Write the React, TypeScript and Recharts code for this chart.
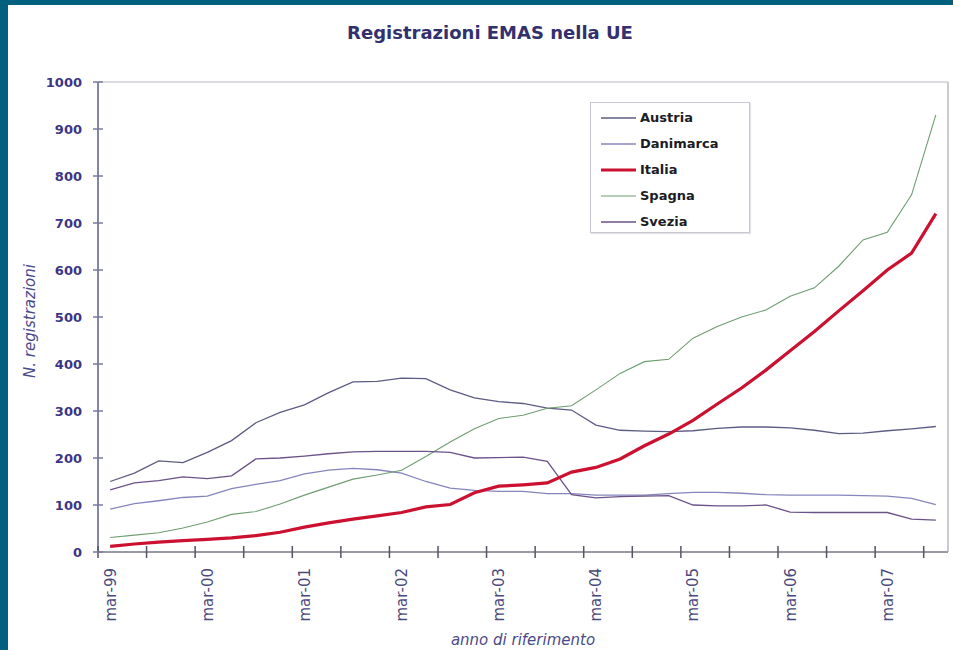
import React from 'react';
import { LineChart, Line, XAxis, YAxis, ReferenceLine, Legend, Label } from 'recharts';

const categories = [
  'mar-99', 'giu-99', 'set-99', 'dic-99',
  'mar-00', 'giu-00', 'set-00', 'dic-00',
  'mar-01', 'giu-01', 'set-01', 'dic-01',
  'mar-02', 'giu-02', 'set-02', 'dic-02',
  'mar-03', 'giu-03', 'set-03', 'dic-03',
  'mar-04', 'giu-04', 'set-04', 'dic-04',
  'mar-05', 'giu-05', 'set-05', 'dic-05',
  'mar-06', 'giu-06', 'set-06', 'dic-06',
  'mar-07', 'giu-07', 'set-07',
];

const austria = [150, 168, 194, 190, 212, 237, 275, 297, 313, 339, 362, 363, 370, 369, 345, 328, 320, 316, 306, 302, 270, 259, 257, 256, 258, 263, 266, 266, 264, 259, 252, 253, 258, 262, 267];
const danimarca = [91, 103, 109, 116, 119, 135, 144, 152, 166, 174, 178, 175, 168, 150, 136, 131, 129, 129, 124, 124, 121, 121, 121, 124, 127, 127, 125, 122, 121, 121, 121, 120, 119, 114, 101];
const italia = [12, 17, 21, 24, 27, 30, 35, 42, 53, 62, 70, 77, 84, 96, 101, 126, 140, 143, 147, 170, 180, 198, 226, 251, 280, 315, 349, 387, 428, 469, 513, 556, 600, 636, 720];
const spagna = [31, 36, 41, 51, 64, 80, 86, 102, 121, 138, 155, 164, 174, 203, 234, 262, 284, 291, 306, 311, 345, 380, 405, 410, 455, 480, 500, 515, 544, 562, 608, 664, 680, 760, 930];
const svezia = [132, 147, 152, 160, 156, 162, 198, 200, 204, 209, 213, 214, 214, 214, 212, 200, 201, 202, 193, 122, 115, 118, 119, 120, 100, 98, 98, 100, 85, 84, 84, 84, 84, 70, 68];

const yTicks = [0, 100, 200, 300, 400, 500, 600, 700, 800, 900, 1000];

const data = categories.map((c, i) => ({
  i,
  cat: c,
  Austria: austria[i],
  Danimarca: danimarca[i],
  Italia: italia[i],
  Spagna: spagna[i],
  Svezia: svezia[i],
}));

// year labels on the "mar" quarters, tick marks on every second category boundary
const labelTicks = categories.map((c, i) => (c.startsWith('mar') ? i : -1)).filter((v) => v >= 0);
const markTicks = categories.filter((_, i) => i % 2 === 0).map((_, k) => k * 2 - 0.5);
const xDomain = [-0.5, categories.length - 0.5];

const FONT = 'DejaVu Sans, Verdana, sans-serif';
const AXIS_TEXT = '#3b3584';

const XMark = (props: any) => {
  const { x, y } = props;
  return <line x1={x} x2={x} y1={y - 6} y2={y + 6} stroke="#555566" strokeWidth={1.5} />;
};

const XLabel = (props: any) => {
  const { x, y, payload } = props;
  const label = categories[payload.value];
  return (
    <text
      x={x}
      y={y}
      transform={`rotate(-90 ${x} ${y})`}
      textAnchor="end"
      dy="0.36em"
      fontFamily={FONT}
      fontSize={15}
      fill="#4a4a7a"
    >
      {label}
    </text>
  );
};

const YTick = (props: any) => {
  const { x, y, payload } = props;
  return (
    <g>
      <line x1={x - 5} x2={x + 5} y1={y} y2={y} stroke="#7a7aa0" strokeWidth={1.5} />
      <text x={x - 16} y={y} dy="0.36em" textAnchor="end" fontFamily={FONT} fontWeight="bold" fontSize={13} fill={AXIS_TEXT}>
        {payload.value}
      </text>
    </g>
  );
};

const YTitle = (props: any) => {
  const vb = props.viewBox || { x: 0, y: 82, width: 98, height: 470 };
  const cx = vb.x + 30;
  const cy = vb.y + vb.height / 2 + 4;
  return (
    <text
      x={cx}
      y={cy}
      transform={`rotate(-90 ${cx} ${cy})`}
      textAnchor="middle"
      dy="0.36em"
      fontFamily={FONT}
      fontStyle="italic"
      fontSize={15}
      fill="#4a4a8a"
    >
      N. registrazioni
    </text>
  );
};

const LegendBox = (props: any) => {
  const payload = props.payload || [];
  return (
    <div
      style={{
        boxSizing: 'border-box',
        width: 160,
        height: 131,
        border: '1px solid #c8c8d0',
        background: '#fff',
        paddingTop: 2,
        boxShadow: '1px 1px 1px #e4e4ea',
      }}
    >
      {payload.map((entry: any) => {
        const sw = entry.payload?.strokeWidth ?? 1;
        return (
          <div key={entry.value} style={{ height: 26, display: 'flex', alignItems: 'center' }}>
            <svg width={45} height={10} style={{ flex: 'none' }}>
              <line x1={10} x2={45} y1={5} y2={5} stroke={entry.color} strokeWidth={sw} />
            </svg>
            <span style={{ marginLeft: 4, fontFamily: FONT, fontWeight: 'bold', fontSize: 13, color: '#1c1c24', lineHeight: '14px' }}>
              {entry.value}
            </span>
          </div>
        );
      })}
    </div>
  );
};

export default function App() {
  return (
    <div style={{ position: 'absolute', left: 0, top: 0, width: 953, height: 650, background: '#00607e', overflow: 'hidden' }}>
      <div style={{ position: 'absolute', left: 8, top: 5, width: 945, height: 645, background: '#ffffff' }} />
      <div
        style={{
          position: 'absolute',
          left: 290,
          top: 24,
          width: 400,
          textAlign: 'center',
          fontFamily: FONT,
          fontWeight: 'bold',
          fontSize: 18,
          lineHeight: '18px',
          color: '#33306e',
        }}
      >
        Registrazioni EMAS nella UE
      </div>
      <div style={{ position: 'absolute', left: 0, top: 0 }}>
        <LineChart width={953} height={650} data={data} margin={{ top: 82, right: 5, bottom: 0, left: 0 }}>
          <XAxis
            xAxisId="a"
            type="number"
            dataKey="i"
            domain={xDomain}
            ticks={markTicks}
            interval={0}
            height={10}
            tickSize={0}
            tickMargin={0}
            tickLine={false}
            tick={<XMark />}
            axisLine={{ stroke: '#9a9aa4', strokeWidth: 2 }}
          />
          <XAxis
            xAxisId="b"
            type="number"
            dataKey="i"
            domain={xDomain}
            ticks={labelTicks}
            interval={0}
            height={88}
            tickSize={0}
            tickMargin={6}
            tickLine={false}
            axisLine={false}
            tick={<XLabel />}
          >
            <Label
              value="anno di riferimento"
              position="insideBottom"
              offset={5}
              style={{ fontFamily: FONT, fontStyle: 'italic', fontSize: 15, fill: '#4a4a8a' }}
            />
          </XAxis>
          <YAxis
            type="number"
            domain={[0, 1000]}
            ticks={yTicks}
            interval={0}
            width={98}
            tickSize={0}
            tickMargin={0}
            tickLine={false}
            tick={<YTick />}
            axisLine={{ stroke: '#8585a8', strokeWidth: 2 }}
          >
            <Label content={<YTitle />} />
          </YAxis>
          <ReferenceLine xAxisId="a" y={1000} stroke="#cfcfd6" strokeWidth={1.5} />
          <ReferenceLine xAxisId="a" x={xDomain[1]} stroke="#b8b8c0" strokeWidth={1.5} />
          <Legend
            layout="vertical"
            align="center"
            verticalAlign="middle"
            itemSorter="value"
            wrapperStyle={{ position: 'absolute', left: 590, top: 102, width: 160, height: 131 }}
            content={<LegendBox />}
          />
          <Line xAxisId="a" type="linear" dataKey="Austria" name="Austria" stroke="#5c5c82" strokeWidth={1.3} dot={false} isAnimationActive={false} />
          <Line xAxisId="a" type="linear" dataKey="Danimarca" name="Danimarca" stroke="#8585bd" strokeWidth={1.3} dot={false} isAnimationActive={false} />
          <Line xAxisId="a" type="linear" dataKey="Spagna" name="Spagna" stroke="#6f9d70" strokeWidth={1.1} dot={false} isAnimationActive={false} />
          <Line xAxisId="a" type="linear" dataKey="Svezia" name="Svezia" stroke="#6b5288" strokeWidth={1.3} dot={false} isAnimationActive={false} />
          <Line xAxisId="a" type="linear" dataKey="Italia" name="Italia" stroke="#cc1030" strokeWidth={3.2} dot={false} isAnimationActive={false} />
        </LineChart>
      </div>
    </div>
  );
}
